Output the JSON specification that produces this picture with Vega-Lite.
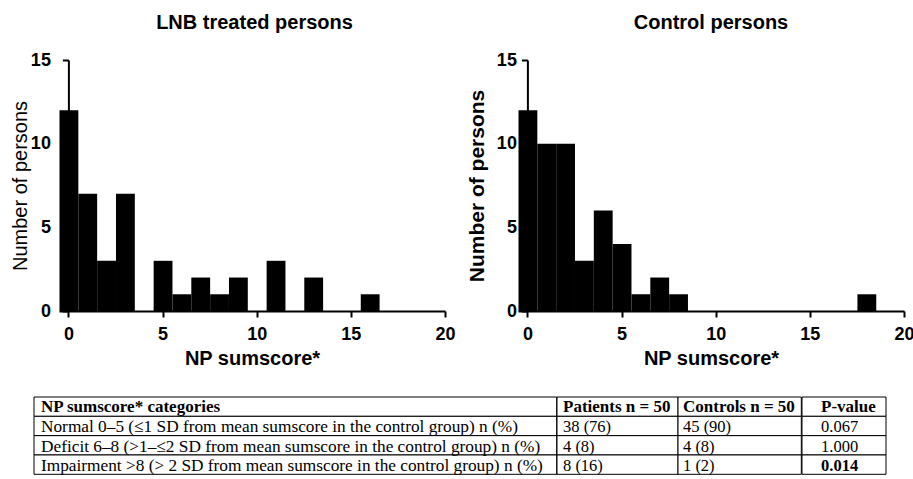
{
  "$schema": "https://vega.github.io/schema/vega-lite/v6.json",
  "background": "white",
  "padding": {"left": 10, "top": 13, "right": 0, "bottom": 0},
  "config": {
    "view": {"stroke": null},
    "axis": {"labelFont": "Liberation Sans", "titleFont": "Liberation Sans", "labelColor": "black", "titleColor": "black", "domainColor": "black", "tickColor": "black", "grid": false, "labelFlush": false, "labelOverlap": false},
    "title": {"font": "Liberation Sans", "color": "black"}
  },
  "datasets": {
    "lnb": [
      {"score": 0, "count": 12}, {"score": 1, "count": 7}, {"score": 2, "count": 3}, {"score": 3, "count": 7},
      {"score": 5, "count": 3}, {"score": 6, "count": 1}, {"score": 7, "count": 2}, {"score": 8, "count": 1},
      {"score": 9, "count": 2}, {"score": 11, "count": 3}, {"score": 13, "count": 2}, {"score": 16, "count": 1}
    ],
    "control": [
      {"score": 0, "count": 12}, {"score": 1, "count": 10}, {"score": 2, "count": 10}, {"score": 3, "count": 3},
      {"score": 4, "count": 6}, {"score": 5, "count": 4}, {"score": 6, "count": 1}, {"score": 7, "count": 2},
      {"score": 8, "count": 1}, {"score": 18, "count": 1}
    ],
    "table": [
      {"category": "NP sumscore* categories", "patients": "Patients n = 50", "controls": "Controls n = 50", "p": "P-value"},
      {"category": "Normal 0–5 (≤1 SD from mean sumscore in the control group) n (%)", "patients": "38 (76)", "controls": "45 (90)", "p": "0.067"},
      {"category": "Deficit 6–8 (>1–≤2 SD from mean sumscore in the control group) n (%)", "patients": "4 (8)", "controls": "4 (8)", "p": "1.000"},
      {"category": "Impairment >8 (> 2 SD from mean sumscore in the control group) n (%)", "patients": "8 (16)", "controls": "1 (2)", "p": "0.014"}
    ]
  },
  "columns": 1,
  "align": "none",
  "center": false,
  "spacing": 28,
  "concat": [
    {
      "hconcat": [
        {
          "data": {"name": "lnb"},
          "width": 411, "height": 251,
          "title": {"text": "LNB treated persons", "frame": "group", "anchor": "middle", "dx": 15, "fontSize": 20, "fontWeight": "bold", "offset": 18},
          "mark": {"type": "bar", "color": "black", "binSpacing": 0},
          "encoding": {
            "x": {"field": "score", "type": "quantitative", "bin": {"extent": [-0.5, 20.5], "step": 1, "nice": false},
                  "scale": {"domain": [-0.5, 20], "nice": false, "zero": false, "rangeMin": 25},
                  "axis": {"values": [0, 5, 10, 15, 20], "format": "d", "title": "NP sumscore*", "titleFontSize": 20, "titleFontWeight": "bold", "titlePadding": 5,
                           "labelFontSize": 18, "labelFontWeight": "bold", "labelPadding": 8, "tickSize": 6, "tickWidth": 2, "domainWidth": 2}},
            "y": {"aggregate": "sum", "field": "count", "type": "quantitative",
                  "scale": {"domain": [0, 15], "nice": false},
                  "axis": {"values": [0, 5, 10, 15], "offset": -34.4, "title": "Number of persons", "titleFontSize": 20, "titleFontWeight": "normal", "titlePadding": 0,
                           "labelFontSize": 18, "labelFontWeight": "bold", "labelPadding": 12, "tickSize": 6, "tickWidth": 2, "domainWidth": 2}}
          }
        },
        {
          "data": {"name": "control"},
          "width": 386, "height": 251,
          "title": {"text": "Control persons", "frame": "group", "anchor": "middle", "fontSize": 20, "fontWeight": "bold", "offset": 18},
          "mark": {"type": "bar", "color": "black", "binSpacing": 0},
          "encoding": {
            "x": {"field": "score", "type": "quantitative", "bin": {"extent": [-0.5, 20.5], "step": 1, "nice": false},
                  "scale": {"domain": [-0.5, 20], "nice": false, "zero": false},
                  "axis": {"values": [0, 5, 10, 15, 20], "format": "d", "title": "NP sumscore*", "titleFontSize": 20, "titleFontWeight": "bold", "titlePadding": 5,
                           "labelFontSize": 18, "labelFontWeight": "bold", "labelPadding": 8, "tickSize": 6, "tickWidth": 2, "domainWidth": 2}},
            "y": {"aggregate": "sum", "field": "count", "type": "quantitative",
                  "scale": {"domain": [0, 15], "nice": false},
                  "axis": {"values": [0, 5, 10, 15], "offset": -9.4, "title": "Number of persons", "titleFontSize": 21, "titleFontWeight": "bold", "titlePadding": 9,
                           "labelFontSize": 18, "labelFontWeight": "bold", "labelPadding": 5, "tickSize": 6, "tickWidth": 2, "domainWidth": 2}}
          }
        }
      ],
      "spacing": 10
    },
    {
      "hconcat": [
        {
          "data": {"name": "table"},
          "width": 522.7, "height": 77.3,
          "encoding": {
            "y": {"field": "category", "type": "nominal", "sort": null, "scale": {"paddingInner": 0, "paddingOuter": 0}, "axis": null}
          },
          "layer": [
            {"mark": {"type": "rect", "fill": "white", "stroke": "black", "strokeWidth": 1}},
            {"transform": [{"filter": "datum.category === 'NP sumscore* categories'"}],
             "mark": {"type": "text", "align": "left", "baseline": "middle", "dx": 7, "dy": 0, "font": "Liberation Serif", "fontSize": 17, "fontWeight": "bold", "color": "black"},
             "encoding": {"x": {"datum": 0, "type": "quantitative", "scale": {"domain": [0, 1], "nice": false, "zero": false}, "axis": null}, "text": {"field": "category"}}},
            {"transform": [{"filter": "datum.category !== 'NP sumscore* categories'"}],
             "mark": {"type": "text", "align": "left", "baseline": "middle", "dx": 7, "dy": 1.5, "font": "Liberation Serif", "fontSize": 17.3, "fontWeight": "normal", "color": "black"},
             "encoding": {"x": {"datum": 0, "type": "quantitative", "scale": {"domain": [0, 1], "nice": false, "zero": false}, "axis": null}, "text": {"field": "category"}}}
          ]
        },
        {
          "data": {"name": "table"},
          "width": 121, "height": 77.3,
          "encoding": {
            "y": {"field": "category", "type": "nominal", "sort": null, "scale": {"paddingInner": 0, "paddingOuter": 0}, "axis": null}
          },
          "layer": [
            {"mark": {"type": "rect", "fill": "white", "stroke": "black", "strokeWidth": 1}},
            {"transform": [{"filter": "datum.category === 'NP sumscore* categories'"}],
             "mark": {"type": "text", "align": "left", "baseline": "middle", "dx": 6, "dy": 0, "font": "Liberation Serif", "fontSize": 17, "fontWeight": "bold", "color": "black"},
             "encoding": {"x": {"datum": 0, "type": "quantitative", "scale": {"domain": [0, 1], "nice": false, "zero": false}, "axis": null}, "text": {"field": "patients"}}},
            {"transform": [{"filter": "datum.category !== 'NP sumscore* categories'"}],
             "mark": {"type": "text", "align": "left", "baseline": "middle", "dx": 6, "dy": 1.5, "font": "Liberation Serif", "fontSize": 16.5, "fontWeight": "normal", "color": "black"},
             "encoding": {"x": {"datum": 0, "type": "quantitative", "scale": {"domain": [0, 1], "nice": false, "zero": false}, "axis": null}, "text": {"field": "patients"}}}
          ]
        },
        {
          "data": {"name": "table"},
          "width": 123.3, "height": 77.3,
          "encoding": {
            "y": {"field": "category", "type": "nominal", "sort": null, "scale": {"paddingInner": 0, "paddingOuter": 0}, "axis": null}
          },
          "layer": [
            {"mark": {"type": "rect", "fill": "white", "stroke": "black", "strokeWidth": 1}},
            {"transform": [{"filter": "datum.category === 'NP sumscore* categories'"}],
             "mark": {"type": "text", "align": "left", "baseline": "middle", "dx": 5, "dy": 0, "font": "Liberation Serif", "fontSize": 17, "fontWeight": "bold", "color": "black"},
             "encoding": {"x": {"datum": 0, "type": "quantitative", "scale": {"domain": [0, 1], "nice": false, "zero": false}, "axis": null}, "text": {"field": "controls"}}},
            {"transform": [{"filter": "datum.category !== 'NP sumscore* categories'"}],
             "mark": {"type": "text", "align": "left", "baseline": "middle", "dx": 5, "dy": 1.5, "font": "Liberation Serif", "fontSize": 16.5, "fontWeight": "normal", "color": "black"},
             "encoding": {"x": {"datum": 0, "type": "quantitative", "scale": {"domain": [0, 1], "nice": false, "zero": false}, "axis": null}, "text": {"field": "controls"}}}
          ]
        },
        {
          "data": {"name": "table"},
          "width": 84, "height": 77.3,
          "encoding": {
            "y": {"field": "category", "type": "nominal", "sort": null, "scale": {"paddingInner": 0, "paddingOuter": 0}, "axis": null}
          },
          "layer": [
            {"mark": {"type": "rect", "fill": "white", "stroke": "black", "strokeWidth": 1}},
            {"transform": [{"filter": "datum.category === 'NP sumscore* categories'"}],
             "mark": {"type": "text", "align": "left", "baseline": "middle", "dx": 19, "dy": 0, "font": "Liberation Serif", "fontSize": 17, "fontWeight": "bold", "color": "black"},
             "encoding": {"x": {"datum": 0, "type": "quantitative", "scale": {"domain": [0, 1], "nice": false, "zero": false}, "axis": null}, "text": {"field": "p"}}},
            {"transform": [{"filter": "datum.category !== 'NP sumscore* categories' && toNumber(datum.p) >= 0.05"}],
             "mark": {"type": "text", "align": "left", "baseline": "middle", "dx": 19, "dy": 1.5, "font": "Liberation Serif", "fontSize": 16.5, "fontWeight": "normal", "color": "black"},
             "encoding": {"x": {"datum": 0, "type": "quantitative", "scale": {"domain": [0, 1], "nice": false, "zero": false}, "axis": null}, "text": {"field": "p"}}},
            {"transform": [{"filter": "datum.category !== 'NP sumscore* categories' && toNumber(datum.p) < 0.05"}],
             "mark": {"type": "text", "align": "left", "baseline": "middle", "dx": 19, "dy": 1.5, "font": "Liberation Serif", "fontSize": 16.5, "fontWeight": "bold", "color": "black"},
             "encoding": {"x": {"datum": 0, "type": "quantitative", "scale": {"domain": [0, 1], "nice": false, "zero": false}, "axis": null}, "text": {"field": "p"}}}
          ]
        }
      ],
      "spacing": 0,
      "bounds": "flush"
    }
  ]
}
